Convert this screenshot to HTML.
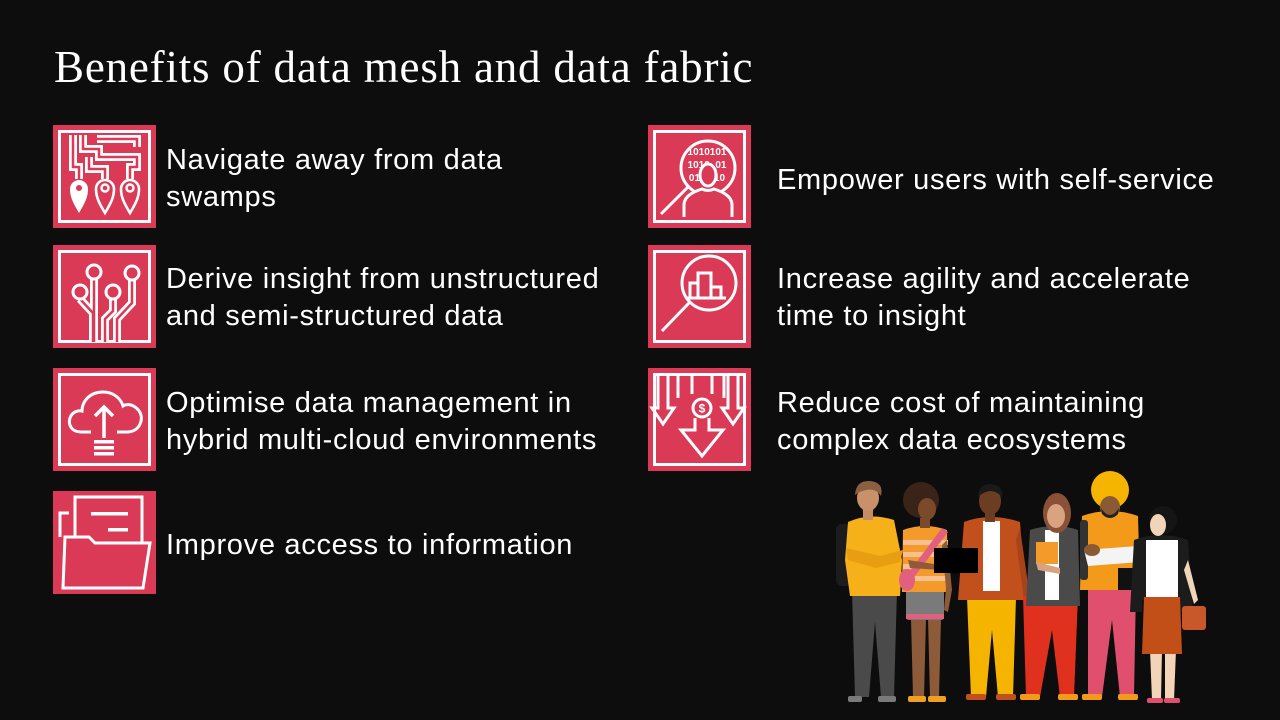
<!DOCTYPE html>
<html><head><meta charset="utf-8">
<style>
html,body{margin:0;padding:0;background:#0d0d0d;}
#s{position:relative;width:1280px;height:720px;overflow:hidden;background:#0d0d0d;}
.t{position:absolute;color:#fff;font-family:"Liberation Sans",Arial,sans-serif;font-size:29px;letter-spacing:0.7px;line-height:37px;white-space:nowrap;}
.title{position:absolute;left:54px;top:45px;color:#fff;font-family:"Liberation Serif",Georgia,serif;font-size:45px;line-height:45px;letter-spacing:0.8px;white-space:nowrap;}
.ic{position:absolute;width:103px;height:103px;}
</style></head><body><div id="s">
<div class="title">Benefits of data mesh and data fabric</div>

<!-- Icon 1 -->
<svg class="ic" style="left:53px;top:125px" viewBox="0 0 103 103">
<rect width="103" height="103" fill="#da3a56"/>
<rect x="6.5" y="6.5" width="90" height="90" fill="none" stroke="#fff" stroke-width="3"/>
<g fill="none" stroke-linejoin="miter">
<path d="M20 10 V42 H26 V54 M30 10 V24 H46 V32 H84 V42 H77 V54 M44 14 H84 V22 M36 32 V44 H52 V54" stroke="#fff" stroke-width="8"/>
<path d="M20 10 V42 H26 V54 M30 10 V24 H46 V32 H84 V42 H77 V54 M44 14 H84 V22 M36 32 V44 H52 V54" stroke="#da3a56" stroke-width="2.5"/>
</g>
<path d="M26 88 C20 78 17 72 17 64 A9 9 0 0 1 35 64 C35 72 32 78 26 88Z" fill="#fff"/>
<circle cx="26" cy="63" r="3" fill="#da3a56"/>
<path d="M52 88 C46 78 43 72 43 64 A9 9 0 0 1 61 64 C61 72 58 78 52 88Z" fill="none" stroke="#fff" stroke-width="2.6"/>
<circle cx="52" cy="63" r="3.5" fill="none" stroke="#fff" stroke-width="2.4"/>
<path d="M77 88 C71 78 68 72 68 64 A9 9 0 0 1 86 64 C86 72 83 78 77 88Z" fill="none" stroke="#fff" stroke-width="2.6"/>
<circle cx="77" cy="63" r="3.5" fill="none" stroke="#fff" stroke-width="2.4"/>
</svg>

<!-- Icon 2 -->
<svg class="ic" style="left:53px;top:245px" viewBox="0 0 103 103">
<rect width="103" height="103" fill="#da3a56"/>
<rect x="6.5" y="6.5" width="90" height="90" fill="none" stroke="#fff" stroke-width="3"/>
<g fill="none">
<path d="M27 54 L40 68 V97 M41 34 V97 M60 54 V66 L52 74 V97 M79 35 V58 L64 74 V97" stroke="#fff" stroke-width="8"/>
<path d="M27 54 L40 68 V97 M41 34 V97 M60 54 V66 L52 74 V97 M79 35 V58 L64 74 V97" stroke="#da3a56" stroke-width="2.5"/>
</g>
<g fill="#da3a56" stroke="#fff" stroke-width="3">
<circle cx="41" cy="27" r="7"/><circle cx="79" cy="28" r="7"/><circle cx="27" cy="47" r="7"/><circle cx="60" cy="47" r="7"/>
</g>
</svg>

<!-- Icon 3 -->
<svg class="ic" style="left:53px;top:368px" viewBox="0 0 103 103">
<rect width="103" height="103" fill="#da3a56"/>
<rect x="6.5" y="6.5" width="90" height="90" fill="none" stroke="#fff" stroke-width="3"/>
<path d="M38 64 H28 C18 64 15 56 17 50 C19 44 25 42 29 43 C29 33 37 24 50 24 C61 24 68 31 70 38 C73 36 78 36 82 39 C88 43 90 50 87 56 C85 61 80 64 74 64 H64" fill="none" stroke="#fff" stroke-width="3"/>
<path d="M51 70 V40 M42 48 L51 39 L60 48" fill="none" stroke="#fff" stroke-width="3.5"/>
<rect x="41" y="72" width="20" height="3.5" fill="#fff"/>
<rect x="41" y="78" width="20" height="3.5" fill="#fff"/>
<rect x="41" y="84" width="20" height="3.5" fill="#fff"/>
</svg>

<!-- Icon 4 -->
<svg class="ic" style="left:53px;top:491px" viewBox="0 0 103 103">
<rect width="103" height="103" fill="#da3a56"/>
<path d="M22 46 V6 H89 V52" fill="none" stroke="#fff" stroke-width="3"/>
<path d="M16 22 H7 V46" fill="none" stroke="#fff" stroke-width="3"/>
<rect x="38" y="21" width="37" height="3.5" fill="#fff"/>
<rect x="55" y="37" width="20" height="3.5" fill="#fff"/>
<path d="M10 97 L12 46 H36 L42 52 H97 L90 97 Z" fill="#da3a56" stroke="#fff" stroke-width="3" stroke-linejoin="miter"/>
</svg>

<!-- Icon 5 -->
<svg class="ic" style="left:648px;top:125px" viewBox="0 0 103 103">
<rect width="103" height="103" fill="#da3a56"/>
<rect x="6.5" y="6.5" width="90" height="90" fill="none" stroke="#fff" stroke-width="3"/>
<g font-family="Liberation Sans,Arial,sans-serif" font-size="10" font-weight="bold" fill="#fff" text-anchor="middle">
<text x="59" y="30">1010101</text>
<text x="59" y="43">1010 &#160;01</text>
<text x="59" y="56">010 &#160; 10</text>
</g>
<circle cx="60" cy="43" r="27" fill="none" stroke="#fff" stroke-width="3"/>
<path d="M40 62 L13 89" stroke="#fff" stroke-width="3"/>
<ellipse cx="60" cy="50" rx="8" ry="11" fill="#da3a56" stroke="#fff" stroke-width="3"/>
<path d="M36 92 V80 C36 70 48 66 54 64 C58 66 62 66 66 64 C72 66 84 70 84 80 V92" fill="#da3a56" stroke="#fff" stroke-width="3"/>
</svg>

<!-- Icon 6 -->
<svg class="ic" style="left:648px;top:245px" viewBox="0 0 103 103">
<rect width="103" height="103" fill="#da3a56"/>
<rect x="6.5" y="6.5" width="90" height="90" fill="none" stroke="#fff" stroke-width="3"/>
<circle cx="61" cy="38" r="27" fill="none" stroke="#fff" stroke-width="3"/>
<path d="M41 58 L14 86" stroke="#fff" stroke-width="3"/>
<path d="M42 52 V38 H50 V28 H63 V42 H73 V52 M38 53 H78" fill="none" stroke="#fff" stroke-width="3"/>
<path d="M50 38 V52 M63 42 V52" stroke="#fff" stroke-width="3"/>
</svg>

<!-- Icon 7 -->
<svg class="ic" style="left:648px;top:368px" viewBox="0 0 103 103">
<rect width="103" height="103" fill="#da3a56"/>
<rect x="6.5" y="6.5" width="90" height="90" fill="none" stroke="#fff" stroke-width="3"/>
<g fill="none" stroke="#fff" stroke-width="3" stroke-linejoin="miter">
<path d="M10 8 V40 H4 L15 56 L26 40 H20 V8"/>
<path d="M80 8 V40 H74 L85 56 L96 40 H90 V8"/>
<path d="M30 8 V30 M76 8 V30"/>
<path d="M44 8 V26 M64 8 V26"/>
<path d="M47 50 V62 H33 L54 88 L75 62 H61 V50"/>
</g>
<circle cx="54" cy="40" r="9" fill="#da3a56" stroke="#fff" stroke-width="3"/>
<text x="54" y="44.5" font-family="Liberation Sans,Arial,sans-serif" font-size="12" font-weight="bold" fill="#fff" text-anchor="middle">$</text>
</svg>

<div class="t" style="left:166px;top:142px">Navigate away from data<br>swamps</div>
<div class="t" style="left:166px;top:261px">Derive insight from unstructured<br>and semi-structured data</div>
<div class="t" style="left:166px;top:385px">Optimise data management in<br>hybrid multi-cloud environments</div>
<div class="t" style="left:166px;top:527px">Improve access to information</div>
<div class="t" style="left:777px;top:162px">Empower users with self-service</div>
<div class="t" style="left:777px;top:261px">Increase agility and accelerate<br>time to insight</div>
<div class="t" style="left:777px;top:385px">Reduce cost of maintaining<br>complex data ecosystems</div>

<!-- People -->
<svg style="position:absolute;left:0;top:0" width="1280" height="720" viewBox="0 0 1280 720">
<!-- P1 -->
<rect x="836" y="524" width="15" height="62" rx="6" fill="#1c1c1c"/>
<path d="M852 590 H897 L894 697 H881 L875 622 L869 697 H855 Z" fill="#4a4a4a"/>
<rect x="848" y="696" width="14" height="6" rx="2" fill="#7a7a7a"/>
<rect x="878" y="696" width="18" height="6" rx="2" fill="#7a7a7a"/>
<path d="M848 522 Q870 512 894 520 L902 560 L900 596 H850 L845 560 Z" fill="#f5b01a"/>
<path d="M846 548 L880 556 L903 550 L900 562 L876 568 L848 560 Z" fill="#e89e10"/>
<rect x="863" y="508" width="10" height="12" fill="#c48b66"/>
<ellipse cx="868" cy="498" rx="11" ry="13" fill="#c9916a"/>
<path d="M855 495 Q856 480 870 481 Q884 482 881 496 Q876 488 866 490 Q860 491 855 495Z" fill="#8a6040"/>
<!-- P2 -->
<path d="M911 618 H926 L924 697 H913 Z M928 618 H941 L939 697 H930 Z" fill="#8d5a3a"/>
<rect x="908" y="696" width="18" height="6" rx="2" fill="#f0a020"/>
<rect x="928" y="696" width="18" height="6" rx="2" fill="#f0a020"/>
<rect x="906" y="588" width="38" height="32" rx="3" fill="#7a7a7a"/>
<rect x="906" y="614" width="38" height="5" fill="#e0607e"/>
<path d="M903 530 Q925 522 947 530 L948 592 H902 Z" fill="#f39a2b"/>
<g fill="#f7c090"><rect x="903" y="540" width="45" height="5"/><rect x="903" y="552" width="45" height="5"/><rect x="903" y="564" width="45" height="5"/><rect x="903" y="576" width="45" height="5"/></g>
<path d="M942 528 L948 532 L912 580 L906 576 Z" fill="#e0607e"/>
<ellipse cx="907" cy="580" rx="8" ry="11" fill="#e0607e"/>
<path d="M947 540 L952 590 L948 612 L944 610 L946 588 L942 545 Z" fill="#8d5a3a"/>
<path d="M908 560 L940 565 L940 570 L910 568 Z" fill="#8d5a3a"/>
<rect x="920" y="514" width="10" height="14" fill="#7a4a2a"/>
<circle cx="921" cy="500" r="18" fill="#3a2418"/>
<ellipse cx="927" cy="509" rx="9" ry="11" fill="#7a4a2a"/>
<!-- P3 -->
<path d="M967 597 H1016 L1013 697 H998 L992 630 L986 697 H971 Z" fill="#f5b400"/>
<rect x="966" y="694" width="20" height="6" rx="2" fill="#c2501c"/>
<rect x="996" y="694" width="20" height="6" rx="2" fill="#c2501c"/>
<path d="M964 522 Q990 512 1020 522 L1026 600 H958 Z" fill="#c2501c"/>
<rect x="983" y="521" width="17" height="70" fill="#fff"/>
<path d="M1020 528 L1030 598 L1024 600 L1016 540 Z" fill="#a8421a"/>
<rect x="934" y="548" width="44" height="25" fill="#000"/>
<rect x="985" y="508" width="10" height="14" fill="#6b3e22"/>
<ellipse cx="990" cy="501" rx="11" ry="14" fill="#6b3e22"/>
<path d="M978 497 Q978 484 991 484 Q1004 485 1002 498 Q998 491 990 491 Q983 492 978 497Z" fill="#1a1a1a"/>
<!-- P4 -->
<path d="M1023 596 H1078 L1074 697 H1060 L1052 630 L1040 697 H1026 Z" fill="#e0301e"/>
<rect x="1020" y="694" width="20" height="6" rx="2" fill="#f39a1a"/>
<rect x="1058" y="694" width="20" height="6" rx="2" fill="#f39a1a"/>
<path d="M1030 530 Q1055 522 1078 530 L1080 606 H1026 Z" fill="#4a4a4a"/>
<rect x="1045" y="530" width="14" height="70" fill="#fff"/>
<rect x="1036" y="542" width="22" height="22" fill="#f39a2b"/>
<path d="M1036 562 L1060 568 L1060 574 L1038 570 Z" fill="#d9a37f"/>
<ellipse cx="1057" cy="513" rx="14" ry="20" fill="#8a5038"/>
<ellipse cx="1056" cy="516" rx="9" ry="12" fill="#d9a37f"/>
<!-- P5 -->
<path d="M1088 588 H1136 L1134 697 H1120 L1112 620 L1102 697 H1088 Z" fill="#e0506e"/>
<rect x="1082" y="694" width="20" height="6" rx="2" fill="#f39a1a"/>
<rect x="1118" y="694" width="20" height="6" rx="2" fill="#f39a1a"/>
<path d="M1082 516 Q1110 506 1138 516 L1140 590 H1080 Z" fill="#f39a1a"/>
<rect x="1080" y="520" width="8" height="60" rx="3" fill="#333"/>
<path d="M1084 550 L1138 546 L1140 562 L1088 566 Z" fill="#f4f4f4"/>
<ellipse cx="1092" cy="550" rx="8" ry="6" fill="#8a5a34"/>
<rect x="1118" y="568" width="16" height="22" fill="#111"/>
<circle cx="1110" cy="490" r="19" fill="#f5b400"/>
<ellipse cx="1110" cy="507" rx="10" ry="11" fill="#8a5a34"/>
<path d="M1101 508 Q1110 522 1119 508 L1118 514 Q1110 522 1102 514Z" fill="#222"/>
<!-- P6 -->
<path d="M1150 650 H1162 L1161 700 H1152 Z M1165 650 H1176 L1174 700 H1165 Z" fill="#f2d5b8"/>
<rect x="1147" y="698" width="16" height="5" rx="2" fill="#e0506e"/>
<rect x="1164" y="698" width="16" height="5" rx="2" fill="#e0506e"/>
<path d="M1134 540 Q1160 530 1188 540 L1193 612 H1180 V600 H1142 V612 H1130 Z" fill="#1c1c1c"/>
<rect x="1146" y="540" width="32" height="60" fill="#fff"/>
<path d="M1144 597 H1180 L1182 654 H1142 Z" fill="#c24f18"/>
<path d="M1188 560 L1198 600 L1194 604 L1184 570 Z" fill="#f2d5b8"/>
<rect x="1182" y="606" width="24" height="24" rx="3" fill="#c8582a"/>
<circle cx="1163" cy="520" r="14" fill="#151515"/>
<ellipse cx="1158" cy="525" rx="8" ry="11" fill="#f2d5b8"/>
</svg>
</div></body></html>
